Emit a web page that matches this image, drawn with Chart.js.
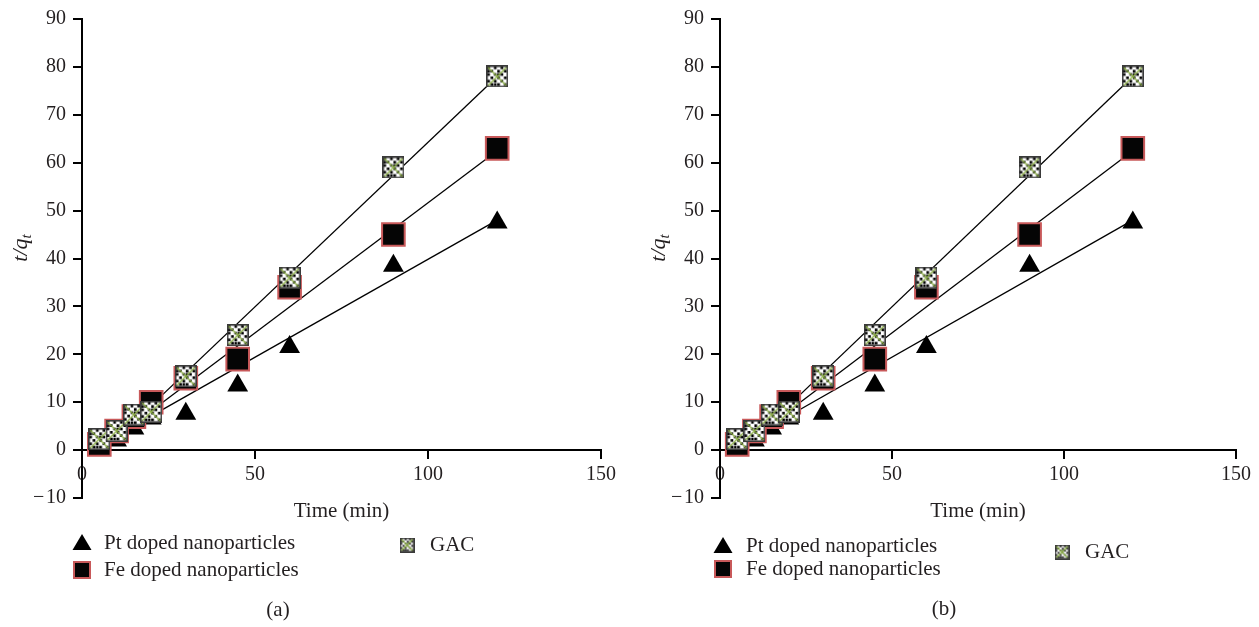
<!DOCTYPE html>
<html lang="en">
<head>
<meta charset="UTF-8">
<title>t/qt versus time</title>
<script src="https://cdn.jsdelivr.net/npm/chart.js"></script>
<style>
  body { margin: 0; background: #fff; width: 1259px; height: 627px; overflow: hidden; position: relative; }
  .panel { position: absolute; top: 0; height: 627px; }
  #panelA { left: 0; width: 629px; }
  #panelB { left: 638px; width: 621px; }
</style>
</head>
<body>
<div class="panel" id="panelA"><canvas id="chartA"></canvas></div>
<div class="panel" id="panelB"><canvas id="chartB"></canvas></div>
<script>
// measured points
const times = [5, 10, 15, 20, 30, 45, 60, 90, 120];
const ptValues = [0.5, 2, 4.5, 6.6, 7.6, 13.5, 21.5, 38.5, 47.5];
const feValues = [1.2, 4, 7, 10, 15, 19, 34, 45, 63];
const gacValues = [2.3, 4, 7.4, 8, 15.4, 24, 36, 59, 78];

// fitted straight lines (end points)
const fitX = [5, 120];
const ptFit = [1, 48];
const feFit = [0, 62.5];
const gacFit = [-1, 78];

const seriesNames = ['Pt doped nanoparticles', 'Fe doped nanoparticles', 'GAC'];
const xTicks = [0, 50, 100, 150];
const yTicks = [-10, 0, 10, 20, 30, 40, 50, 60, 70, 80, 90];

const SERIF = '"Liberation Serif", "Times New Roman", serif';
const TEXT = '#231f20';
Chart.defaults.font.family = SERIF;
Chart.defaults.color = TEXT;

function toPoints(xs, ys) {
    return xs.map((x, i) => ({ x: x, y: ys[i] }));
}

// speckled square used for the GAC series
function gacMarker(size) {
    const c = document.createElement('canvas');
    c.width = size;
    c.height = size;
    const g = c.getContext('2d');
    g.fillStyle = '#fff';
    g.fillRect(0, 0, size, size);
    g.fillStyle = '#000';
    const n = 6;
    const step = (size - 2) / n;
    for (let i = 0; i < n; i++) {
        for (let j = 0; j < n; j++) {
            if ((i + j) % 2 === 0 || (i * 3 + j) % 5 === 1) {
                g.fillRect(1 + i * step, 1 + j * step, step * 0.8, step * 0.8);
            }
        }
    }
    g.strokeStyle = '#8cb043';
    g.lineWidth = 1.2;
    g.beginPath();
    g.moveTo(1, 1); g.lineTo(size - 1, size - 1);
    g.moveTo(size - 1, 1); g.lineTo(1, size - 1);
    g.stroke();
    g.strokeStyle = '#3a3a3a';
    g.lineWidth = 1.6;
    g.strokeRect(0.8, 0.8, size - 1.6, size - 1.6);
    return c;
}

const gacImg = gacMarker(22);
const gacLegendImg = gacMarker(15);

// negative ticks get a real minus sign
const minus = v => (v < 0 ? '\u2212\u200a' + Math.abs(v) : String(v));

// axis title with subscript, legend block and panel letter
const panelDecor = {
    id: 'panelDecor',
    afterDraw(chart) {
        const o = chart.options.plugins.panelDecor;
        const ctx = chart.ctx;
        ctx.save();

        // y axis title t/q_t
        ctx.translate(o.yTitle.x, o.yTitle.y);
        ctx.rotate(-Math.PI / 2);
        ctx.fillStyle = TEXT;
        ctx.textBaseline = 'alphabetic';
        ctx.textAlign = 'left';
        ctx.font = 'italic 22px ' + SERIF;
        const wMain = ctx.measureText('t/q').width;
        ctx.font = 'italic 15px ' + SERIF;
        const wSub = ctx.measureText('t').width;
        const x0 = -(wMain + wSub) / 2;
        ctx.font = 'italic 22px ' + SERIF;
        ctx.fillText('t/q', x0, 7);
        ctx.font = 'italic 15px ' + SERIF;
        ctx.fillText('t', x0 + wMain, 11);
        ctx.restore();
        ctx.save();

        // legend
        const ds = chart.data.datasets;
        ctx.font = '21px ' + SERIF;
        ctx.textBaseline = 'middle';
        o.legend.forEach((item, i) => {
            const d = ds[i];
            const mx = item.x, my = item.y;
            if (d.pointStyle === 'triangle') {
                ctx.fillStyle = '#000';
                ctx.beginPath();
                ctx.moveTo(mx, my - 9);
                ctx.lineTo(mx + 9.5, my + 7);
                ctx.lineTo(mx - 9.5, my + 7);
                ctx.closePath();
                ctx.fill();
            } else if (d.pointStyle === 'rect') {
                ctx.fillStyle = d.backgroundColor;
                ctx.fillRect(mx - 8, my - 8, 16, 16);
                ctx.strokeStyle = d.borderColor;
                ctx.lineWidth = 2;
                ctx.strokeRect(mx - 8, my - 8, 16, 16);
            } else {
                ctx.drawImage(gacLegendImg, mx - 7.5, my - 7.5);
            }
            ctx.fillStyle = TEXT;
            ctx.fillText(d.label, item.tx, my);
        });

        // panel letter
        ctx.textAlign = 'center';
        ctx.fillText(o.caption.text, o.caption.x, o.caption.y);
        ctx.restore();
    }
};

function buildChart(canvasId, panel) {
    return new Chart(document.getElementById(canvasId), {
        type: 'scatter',
        data: {
            datasets: [
                {
                    label: seriesNames[0],
                    data: toPoints(times, ptValues),
                    pointStyle: 'triangle',
                    pointRadius: 12,
                    backgroundColor: '#000',
                    borderWidth: 0,
                    order: 2
                },
                {
                    label: seriesNames[1],
                    data: toPoints(times, feValues),
                    pointStyle: 'rect',
                    pointRadius: 16,
                    backgroundColor: '#050505',
                    borderColor: '#c8595a',
                    borderWidth: 2,
                    order: 1
                },
                {
                    label: seriesNames[2],
                    data: toPoints(times, gacValues),
                    pointStyle: gacImg,
                    order: 0
                },
                { type: 'line', data: toPoints(fitX, ptFit), borderColor: '#000', borderWidth: 1.3, pointRadius: 0, order: 3 },
                { type: 'line', data: toPoints(fitX, feFit), borderColor: '#000', borderWidth: 1.3, pointRadius: 0, order: 3 },
                { type: 'line', data: toPoints(fitX, gacFit), borderColor: '#000', borderWidth: 1.3, pointRadius: 0, order: 3 }
            ]
        },
        options: {
            responsive: true,
            maintainAspectRatio: false,
            animation: false,
            layout: { padding: { left: panel.padLeft, right: panel.padRight, top: 12, bottom: 129 } },
            plugins: {
                legend: { display: false },
                tooltip: { enabled: false },
                panelDecor: panel.decor
            },
            scales: {
                x: {
                    type: 'linear',
                    position: { y: 0 },
                    min: 0,
                    max: 150,
                    afterBuildTicks: s => { s.ticks = xTicks.map(v => ({ value: v })); },
                    afterFit: s => { s.height = 74; },
                    border: { color: '#000', width: 2 },
                    grid: { drawOnChartArea: false, drawTicks: true, tickLength: 8, color: '#000', lineWidth: 2 },
                    ticks: { font: { size: 20 }, padding: 5, maxRotation: 0, callback: minus },
                    title: { display: true, text: 'Time (min)', font: { size: 21 }, padding: 0 }
                },
                y: {
                    type: 'linear',
                    position: 'left',
                    min: -10,
                    max: 90,
                    afterBuildTicks: s => { s.ticks = yTicks.map(v => ({ value: v })); },
                    afterFit: s => { s.width = 54; },
                    border: { color: '#000', width: 2 },
                    grid: { drawOnChartArea: false, drawTicks: true, tickLength: 9, color: '#000', lineWidth: 2 },
                    ticks: { font: { size: 20 }, padding: 7, callback: minus }
                }
            }
        },
        plugins: [panelDecor]
    });
}

buildChart('chartA', {
    padLeft: 28,
    padRight: 28,
    decor: {
        yTitle: { x: 20, y: 248 },
        legend: [
            { x: 82, y: 543, tx: 104 },
            { x: 82, y: 570, tx: 104 },
            { x: 407, y: 545, tx: 430 }
        ],
        caption: { text: '(a)', x: 278, y: 610 }
    }
});

buildChart('chartB', {
    padLeft: 28,
    padRight: 23,
    decor: {
        yTitle: { x: 20, y: 248 },
        legend: [
            { x: 85, y: 546, tx: 108 },
            { x: 85, y: 569, tx: 108 },
            { x: 424, y: 552, tx: 447 }
        ],
        caption: { text: '(b)', x: 306, y: 609 }
    }
});
</script>
</body>
</html>
